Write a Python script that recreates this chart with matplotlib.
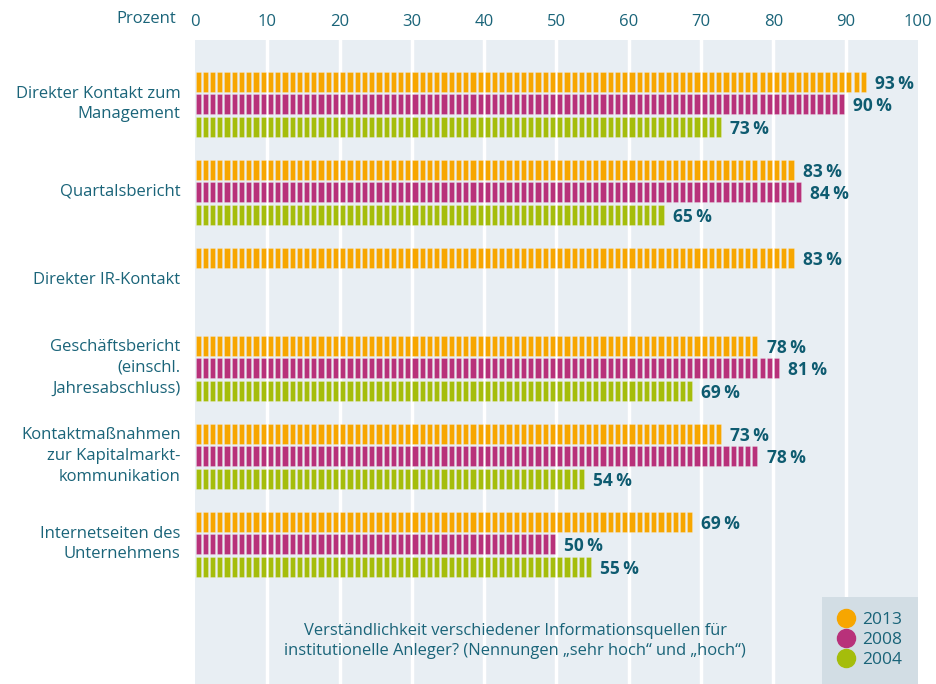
import numpy as np
import matplotlib
matplotlib.use("Agg")
import matplotlib.pyplot as plt
from matplotlib.lines import Line2D

plt.rcParams['font.family'] = ['Open Sans', 'DejaVu Sans']

categories = ["Direkter Kontakt zum\nManagement", "Quartalsbericht", "Direkter IR-Kontakt",
              "Geschäftsbericht\n(einschl.\nJahresabschluss)",
              "Kontaktmaßnahmen\nzur Kapitalmarkt-\nkommunikation",
              "Internetseiten des\nUnternehmens"]
years = ["2013", "2008", "2004"]
v2013 = [93, 83, 83, 78, 73, 69]
v2008 = [90, 84, None, 81, 78, 50]
v2004 = [73, 65, None, 69, 54, 55]
series = [v2013, v2008, v2004]
colors = ["#f7a600", "#b8317a", "#a5bd0b"]
ticks = [0, 10, 20, 30, 40, 50, 60, 70, 80, 90, 100]

teal = "#1a6479"
dark = "#0e5b70"
bg = "#e8eef3"

W, H = 937, 684
fig = plt.figure(figsize=(W/100, H/100), dpi=100)
x0, x1 = 195, 918
ax = fig.add_axes([x0/W, 0, (x1-x0)/W, 1-40/H])
ax.set_facecolor(bg)
ax.set_xlim(0, 100)
# group center pixel = 104 + 88*i
ax.set_ylim((684-104)/88, (40-104)/88)
for s in ax.spines.values():
    s.set_visible(False)

for t in ticks[1:-1]:
    ax.axvline(t, color="white", lw=2.5, zorder=1)

off = 22.5/88
h = 20/88
for si, (vals, c) in enumerate(zip(series, colors)):
    for gi, v in enumerate(vals):
        if v is None:
            continue
        y = gi + (si-1)*off
        n = int(round(v))
        ax.barh(np.full(n, y), width=0.72, left=np.arange(n)+0.08, height=h,
                color=c, edgecolor=(1, 1, 1, 0.25), linewidth=0.6, zorder=2)
        ax.annotate(f"{v}\u2009%", (n-0.1, y), xytext=(6, -1.5), textcoords="offset points",
                    ha="left", va="center", fontsize=12.5, fontweight="bold", color=dark)

ax.set_yticks([])
ax.xaxis.tick_top()
ax.set_xticks(ticks)
ax.set_xticklabels([str(t) for t in ticks], fontsize=12, color=teal)
ax.tick_params(axis="x", length=0, pad=7)
fig.text(176/W, 1-19/H, "Prozent", ha="right", va="center", fontsize=12, color=teal)

for gi, lab in enumerate(categories):
    ax.text(-2.0, gi, lab, ha="right", va="center", fontsize=12, color=teal,
            linespacing=1.38, transform=ax.transData, clip_on=False)

fig.text(515/W, 1-641/H,
         "Verständlichkeit verschiedener Informationsquellen für\ninstitutionelle Anleger? (Nennungen „sehr hoch“ und „hoch“)",
         ha="center", va="center", fontsize=11.9, color=teal, linespacing=1.3)

handles = [Line2D([], [], marker="o", linestyle="none", markersize=13, color=c) for c in colors]
leg = ax.legend(handles, years, loc="lower right", bbox_to_anchor=(1, 0), frameon=True,
                fancybox=False, facecolor="#d2dde4", edgecolor="none", framealpha=1,
                borderaxespad=0, fontsize=12.5, labelspacing=0.22, handletextpad=0.45,
                borderpad=0.9, handlelength=1.0)
for t in leg.get_texts():
    t.set_color(teal)

fig.savefig("out.png", dpi=100)
